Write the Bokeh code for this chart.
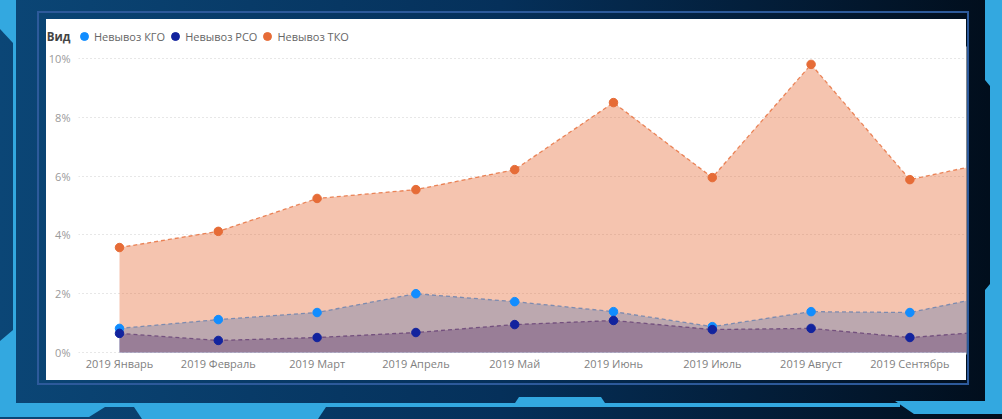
from urllib.parse import quote
from bokeh.plotting import figure
from bokeh.layouts import column
from bokeh.models import (ColumnDataSource, Range1d, FixedTicker, Legend, LegendItem)
from bokeh.embed import file_html
from bokeh.resources import INLINE

# ---------------- data ----------------
months = ["2019 Январь", "2019 Февраль", "2019 Март", "2019 Апрель", "2019 Май",
          "2019 Июнь", "2019 Июль", "2019 Август", "2019 Сентябрь", "2019 Октябрь"]
kgo = [0.82, 1.12, 1.36, 2.00, 1.73, 1.39, 0.88, 1.39, 1.36, 2.05]   # Невывоз КГО, %
rso = [0.65, 0.41, 0.51, 0.68, 0.95, 1.09, 0.78, 0.82, 0.51, 0.76]   # Невывоз РСО, %
tko = [3.57, 4.12, 5.24, 5.54, 6.22, 8.50, 5.95, 9.80, 5.88, 6.60]   # Невывоз ТКО, %
series_names = ["Невывоз КГО", "Невывоз РСО", "Невывоз ТКО"]
y_ticks = [0, 2, 4, 6, 8, 10]
y_tick_labels = ["0%", "2%", "4%", "6%", "8%", "10%"]
legend_title = "Вид"

colors = ["#118DFF", "#12239E", "#E66C37"]
FONT = "Open Sans"

W, H = 986, 403
HEAD = 46

# ---------------- decorative dashboard frame (page background) ----------------
LB = "#33a8e0"
shapes = [
    [(0, 0), (13, 0), (13, 43), (0, 29)],
    [(13, 0), (16, 0), (16, 403), (13, 403)],
    [(0, 341), (13, 330), (16, 330), (16, 403), (105, 403), (105, 407), (89, 417), (0, 417)],
    [(16, 403), (900, 403), (900, 407), (16, 407)],
    [(134, 407), (326, 407), (318, 419), (142, 419)],
    [(513, 406), (519, 397), (601, 397), (607, 406)],
    [(895, 401), (1002, 401), (1002, 414), (914, 414)],
    [(985, 0), (1002, 0), (1002, 414), (985, 414), (985, 290), (990, 284), (990, 86), (985, 80)],
]
svg = ['<svg xmlns="http://www.w3.org/2000/svg" width="1002" height="419">',
       '<defs><linearGradient id="g" x1="0" y1="0" x2="1" y2="0">'
       '<stop offset="0" stop-color="#0b4676"/><stop offset="0.5" stop-color="#05305a"/>'
       '<stop offset="1" stop-color="#010d1b"/></linearGradient></defs>',
       '<rect x="0" y="0" width="1002" height="419" fill="url(#g)"/>']
for s in shapes:
    svg.append('<polygon points="%s" fill="%s"/>' % (" ".join("%g,%g" % q for q in s), LB))
svg.append('<rect x="38" y="12" width="930" height="372" fill="none" stroke="#2d5a9b" stroke-width="2"/>')
svg.append('<rect x="46" y="19" width="920" height="361" fill="white"/>')
svg.append('</svg>')
bg_uri = "data:image/svg+xml," + quote("".join(svg))

src = ColumnDataSource(dict(x=list(range(len(months))), kgo=kgo, rso=rso, tko=tko))
x_range = Range1d(-0.415, 8.573)
keys = ["kgo", "rso", "tko"]

# ---------------- header: legend row ----------------
# y range lies far above the data, so the header only shows the legend and its title
head = figure(width=W, height=HEAD, output_backend="svg", toolbar_location=None,
              x_range=x_range, y_range=Range1d(146, 100), x_axis_type=None,
              min_border_left=78, min_border_right=20, min_border_top=0, min_border_bottom=0)
head.grid.visible = False
head.outline_line_color = None
head.background_fill_alpha = 0
head.border_fill_alpha = 0
ya = head.yaxis[0]
ya.ticker = FixedTicker(ticks=[136])
ya.major_label_overrides = {136: legend_title}
ya.axis_line_color = None
ya.major_tick_line_color = None
ya.minor_tick_line_color = None
ya.major_tick_out = 0
ya.major_tick_in = 0
ya.minor_tick_out = 0
ya.minor_tick_in = 0
ya.major_label_standoff = 8
ya.major_label_text_font = FONT
ya.major_label_text_font_size = "11.5px"
ya.major_label_text_font_style = "bold"
ya.major_label_text_color = "#444444"

legend_rs = [head.scatter(x="x", y=k, source=src, size=8.5, fill_color=col, line_color=col)
             for k, col in zip(keys, colors)]
legend = Legend(items=[LegendItem(label=nm, renderers=[r]) for nm, r in zip(series_names, legend_rs)],
                orientation="horizontal", location=(-4, -1), margin=0, padding=0,
                spacing=0, glyph_width=20, glyph_height=22, label_height=22,
                label_standoff=0, label_text_font=FONT, label_text_font_size="11px",
                label_text_color="#666666", border_line_color=None,
                background_fill_alpha=0)
head.add_layout(legend)

# ---------------- main chart ----------------
p = figure(width=W, height=H - HEAD, output_backend="svg", toolbar_location=None,
           x_range=x_range, y_range=Range1d(-0.068, 10.408),
           min_border_left=78, min_border_right=20, min_border_top=0, min_border_bottom=49)
p.border_fill_alpha = 0
p.background_fill_color = "white"
p.outline_line_color = None

p.xaxis.ticker = FixedTicker(ticks=list(range(len(months))))
p.xaxis.major_label_overrides = {i: m for i, m in enumerate(months)}
p.yaxis.ticker = FixedTicker(ticks=y_ticks)
p.yaxis.major_label_overrides = {t: l for t, l in zip(y_ticks, y_tick_labels)}
for ax in (p.xaxis, p.yaxis):
    ax.axis_line_color = None
    ax.major_tick_line_color = None
    ax.minor_tick_line_color = None
    ax.major_tick_out = 0
    ax.major_tick_in = 0
    ax.minor_tick_out = 0
    ax.minor_tick_in = 0
    ax.major_label_text_font = FONT
    ax.major_label_text_font_size = "11px"
p.xaxis.major_label_text_color = "#7f7f7f"
p.yaxis.major_label_text_color = "#9a9a9a"
p.xaxis.major_label_standoff = 1
p.yaxis.major_label_standoff = 8

p.xgrid.grid_line_color = None
p.ygrid.grid_line_color = "#cfcfcf"
p.ygrid.grid_line_dash = "1 3"
p.ygrid.grid_line_width = 1
p.ygrid.ticker = FixedTicker(ticks=y_ticks)

for k, col in zip(keys, colors):
    p.varea(x="x", y1=0, y2=k, source=src, fill_color=col, fill_alpha=0.4)
    p.line(x="x", y=k, source=src, line_color=col, line_alpha=0.8,
           line_width=1.3, line_dash="4 3")
for k, col in zip(keys, colors):
    p.scatter(x="x", y=k, source=src, size=8.5, fill_color=col, line_color=col)

layout = column(head, p, spacing=0)
try:
    from bokeh.models import GlobalInlineStyleSheet
    layout.stylesheets = [GlobalInlineStyleSheet(
        css='html, body { background: #021427 url("%s") no-repeat 0 0 !important; }' % bg_uri)]
except Exception:
    p.styles = {"background-image": 'url("%s")' % bg_uri, "background-repeat": "no-repeat"}

open("out.html", "w").write(file_html(layout, INLINE))
